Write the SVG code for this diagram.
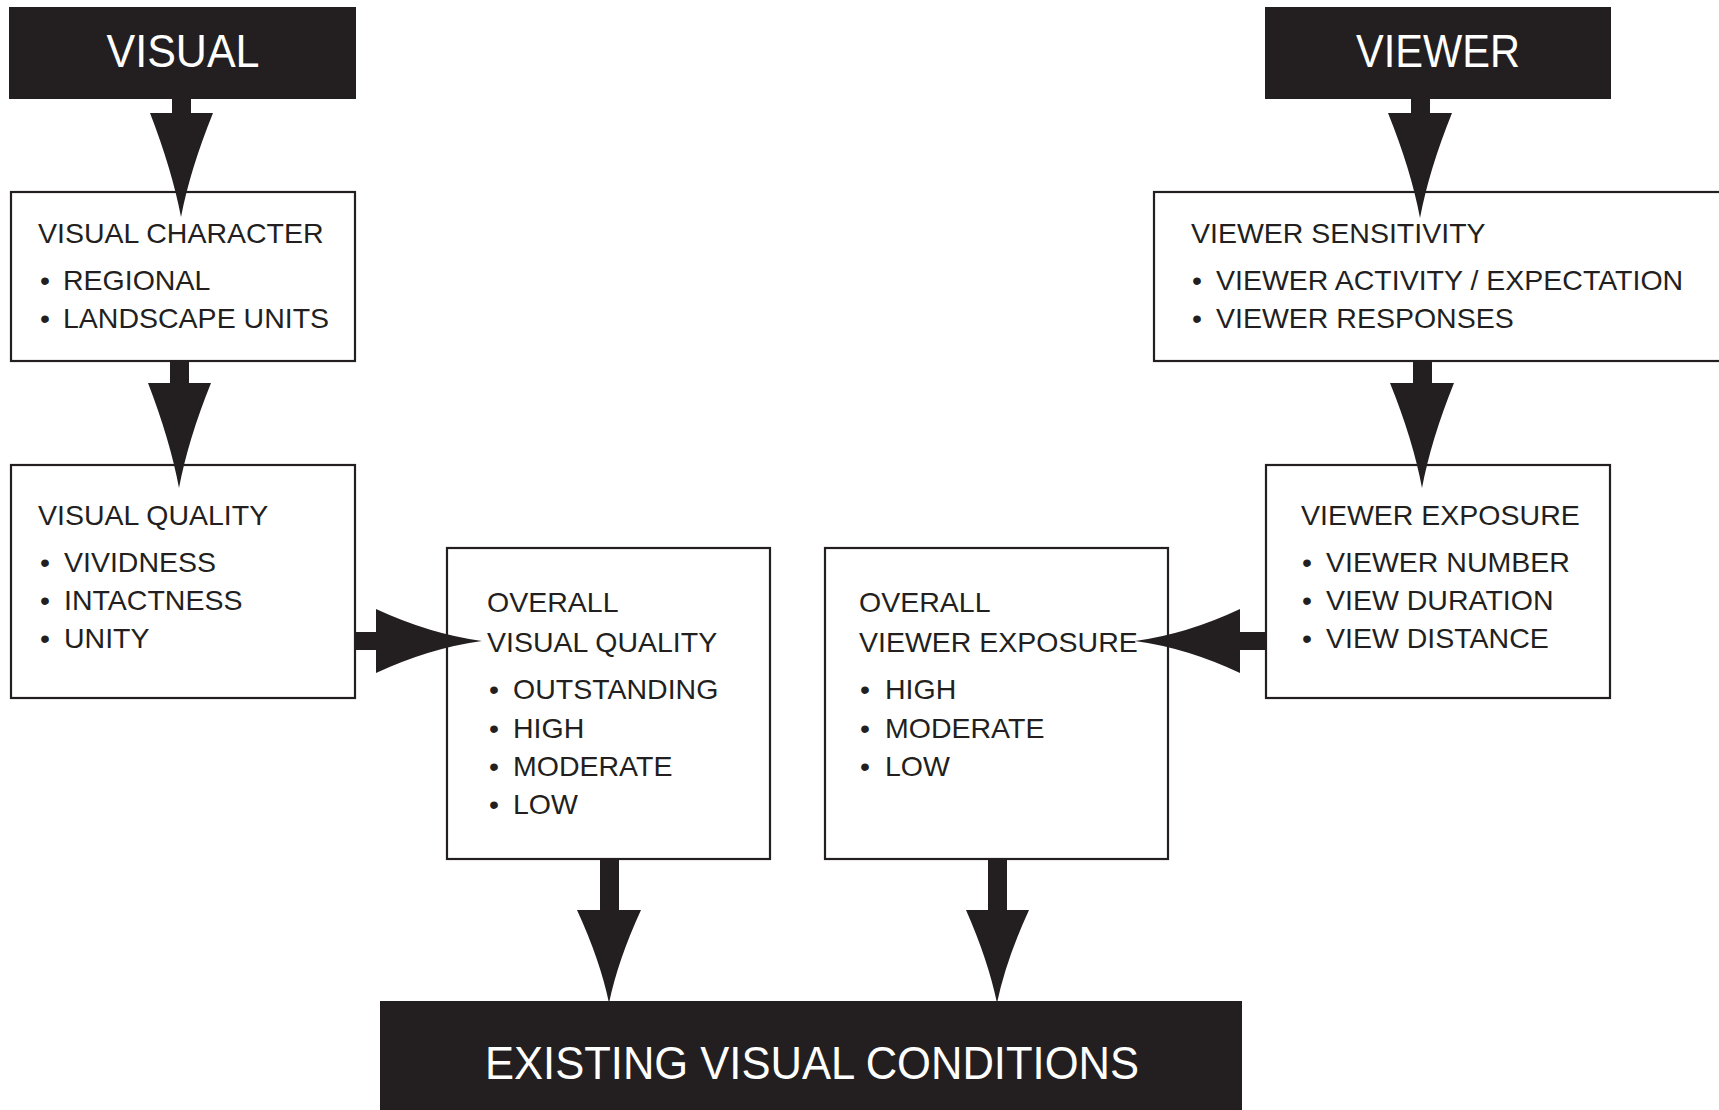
<svg xmlns="http://www.w3.org/2000/svg" width="1719" height="1110" viewBox="0 0 1719 1110">
<style>
.bg{fill:#ffffff}
.dark{fill:#231f20;stroke:#231f20;stroke-width:2}
.box{fill:#ffffff;stroke:#231f20;stroke-width:2.2}
.title{font-family:"Liberation Sans",Arial,sans-serif;font-size:46px;fill:#ffffff;text-anchor:middle}
.t{font-family:"Liberation Sans",Arial,sans-serif;font-size:28.5px;fill:#231f20}
.arr{fill:#231f20;stroke:none}
</style>
<rect class="bg" x="0" y="0" width="1719" height="1110"/>

<g id="node-visual">
<rect class="dark" x="10" y="8" width="345" height="90"/>
<text class="title" x="183" y="67" textLength="153" lengthAdjust="spacingAndGlyphs">VISUAL</text>
</g>

<g id="node-viewer">
<rect class="dark" x="1266" y="8" width="344" height="90"/>
<text class="title" x="1438" y="67" textLength="164" lengthAdjust="spacingAndGlyphs">VIEWER</text>
</g>

<g id="node-visual-character">
<rect class="box" x="11" y="192" width="344" height="169"/>
<text class="t" x="38" y="243">VISUAL CHARACTER</text>
<text class="t" y="290"><tspan x="40">• </tspan><tspan x="63">REGIONAL</tspan></text>
<text class="t" y="328"><tspan x="40">• </tspan><tspan x="63">LANDSCAPE UNITS</tspan></text>
</g>

<g id="node-viewer-sensitivity">
<rect class="box" x="1154" y="192" width="580" height="169"/>
<text class="t" x="1191" y="243">VIEWER SENSITIVITY</text>
<text class="t" y="290"><tspan x="1192">• </tspan><tspan x="1216">VIEWER ACTIVITY / EXPECTATION</tspan></text>
<text class="t" y="328"><tspan x="1192">• </tspan><tspan x="1216">VIEWER RESPONSES</tspan></text>
</g>

<g id="node-visual-quality">
<rect class="box" x="11" y="465" width="344" height="233"/>
<text class="t" x="38" y="525">VISUAL QUALITY</text>
<text class="t" y="572"><tspan x="40">• </tspan><tspan x="64">VIVIDNESS</tspan></text>
<text class="t" y="610"><tspan x="40">• </tspan><tspan x="64">INTACTNESS</tspan></text>
<text class="t" y="648"><tspan x="40">• </tspan><tspan x="64">UNITY</tspan></text>
</g>

<g id="node-viewer-exposure">
<rect class="box" x="1266" y="465" width="344" height="233"/>
<text class="t" x="1301" y="525">VIEWER EXPOSURE</text>
<text class="t" y="572"><tspan x="1302">• </tspan><tspan x="1326">VIEWER NUMBER</tspan></text>
<text class="t" y="610"><tspan x="1302">• </tspan><tspan x="1326">VIEW DURATION</tspan></text>
<text class="t" y="648"><tspan x="1302">• </tspan><tspan x="1326">VIEW DISTANCE</tspan></text>
</g>

<g id="node-overall-visual-quality">
<rect class="box" x="447" y="548" width="323" height="311"/>
<text class="t" x="487" y="612">OVERALL</text>
<text class="t" x="487" y="652">VISUAL QUALITY</text>
<text class="t" y="699"><tspan x="489">• </tspan><tspan x="513">OUTSTANDING</tspan></text>
<text class="t" y="738"><tspan x="489">• </tspan><tspan x="513">HIGH</tspan></text>
<text class="t" y="776"><tspan x="489">• </tspan><tspan x="513">MODERATE</tspan></text>
<text class="t" y="814"><tspan x="489">• </tspan><tspan x="513">LOW</tspan></text>
</g>

<g id="node-overall-viewer-exposure">
<rect class="box" x="825" y="548" width="343" height="311"/>
<text class="t" x="859" y="612">OVERALL</text>
<text class="t" x="859" y="652">VIEWER EXPOSURE</text>
<text class="t" y="699"><tspan x="860">• </tspan><tspan x="885">HIGH</tspan></text>
<text class="t" y="738"><tspan x="860">• </tspan><tspan x="885">MODERATE</tspan></text>
<text class="t" y="776"><tspan x="860">• </tspan><tspan x="885">LOW</tspan></text>
</g>

<g id="node-existing">
<rect class="dark" x="381" y="1002" width="860" height="120"/>
<text class="title" x="812" y="1079" textLength="654" lengthAdjust="spacingAndGlyphs">EXISTING VISUAL CONDITIONS</text>
</g>

<g id="connectors">
<!-- VISUAL -> VISUAL CHARACTER -->
<g>
<rect class="arr" x="172" y="97" width="19" height="17"/>
<path class="arr" d="M150,113 L213,113 Q190,170 181,217 Q172,170 150,113 Z"/>
</g>
<!-- VISUAL CHARACTER -> VISUAL QUALITY -->
<g>
<rect class="arr" x="170" y="360" width="19" height="24"/>
<path class="arr" d="M148,383 L211,383 Q188,440 179,488 Q170,440 148,383 Z"/>
</g>
<!-- VIEWER -> VIEWER SENSITIVITY -->
<g>
<rect class="arr" x="1411" y="97" width="19" height="17"/>
<path class="arr" d="M1388,113 L1452,113 Q1429,170 1420,218 Q1411,170 1388,113 Z"/>
</g>
<!-- VIEWER SENSITIVITY -> VIEWER EXPOSURE -->
<g>
<rect class="arr" x="1413" y="360" width="19" height="24"/>
<path class="arr" d="M1390,383 L1454,383 Q1431,440 1422,488 Q1413,440 1390,383 Z"/>
</g>
<!-- VISUAL QUALITY -> OVERALL VISUAL QUALITY -->
<g>
<rect class="arr" x="354" y="632" width="23" height="18"/>
<path class="arr" d="M376,609 L376,673 Q430,648 482,641 Q430,634 376,609 Z"/>
</g>
<!-- VIEWER EXPOSURE -> OVERALL VIEWER EXPOSURE -->
<g>
<rect class="arr" x="1239" y="632" width="28" height="18"/>
<path class="arr" d="M1240,609 L1240,673 Q1187,648 1135,641 Q1187,634 1240,609 Z"/>
</g>
<!-- OVERALL VISUAL QUALITY -> EXISTING -->
<g>
<rect class="arr" x="600" y="858" width="19" height="53"/>
<path class="arr" d="M577,910 L641,910 Q618,960 609,1003 Q600,960 577,910 Z"/>
</g>
<!-- OVERALL VIEWER EXPOSURE -> EXISTING -->
<g>
<rect class="arr" x="988" y="858" width="19" height="53"/>
<path class="arr" d="M966,910 L1029,910 Q1006,960 997,1003 Q988,960 966,910 Z"/>
</g>
</g>
</svg>
